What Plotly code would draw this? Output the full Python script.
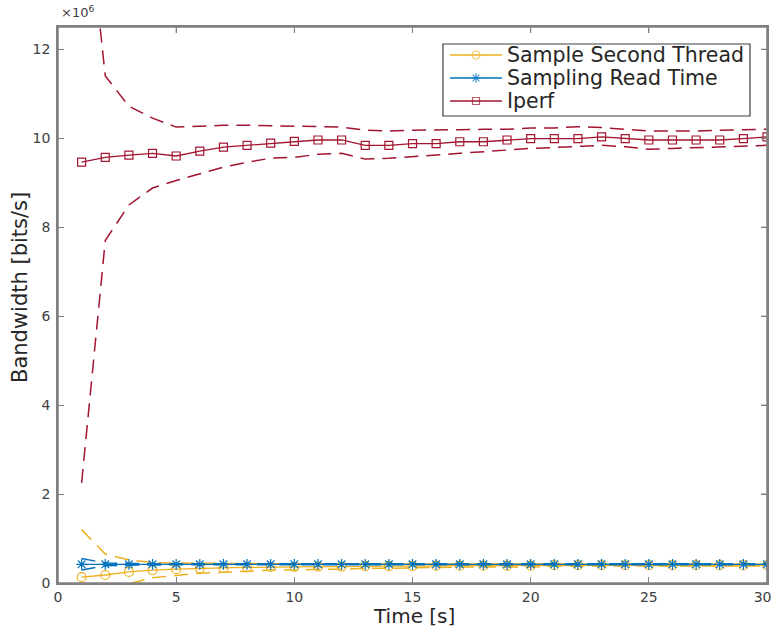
import plotly.graph_objects as go

time_s = list(range(1, 31))

# Sample Second Thread (x1e6 bits/s)
sst_mean = [0.13, 0.18, 0.25, 0.29, 0.31, 0.33, 0.34, 0.35, 0.36, 0.36, 0.37, 0.37, 0.38, 0.38, 0.38,
            0.39, 0.39, 0.39, 0.39, 0.39, 0.40, 0.40, 0.40, 0.40, 0.40, 0.40, 0.40, 0.40, 0.40, 0.40]
sst_upper = [1.20, 0.65, 0.52, 0.46, 0.45, 0.44, 0.44, 0.44, 0.43, 0.43, 0.43, 0.43, 0.43, 0.43, 0.42,
             0.42, 0.42, 0.42, 0.42, 0.42, 0.42, 0.42, 0.42, 0.42, 0.42, 0.42, 0.42, 0.42, 0.42, 0.42]
sst_lower = [-0.94, -0.29, -0.02, 0.12, 0.17, 0.22, 0.24, 0.26, 0.29, 0.29, 0.31, 0.31, 0.33, 0.33, 0.34,
             0.36, 0.36, 0.36, 0.36, 0.36, 0.38, 0.38, 0.38, 0.38, 0.38, 0.38, 0.38, 0.38, 0.38, 0.38]

# Sampling Read Time (x1e6 bits/s)
srt_mean = [0.42] * 30
srt_upper = [0.55, 0.45, 0.44, 0.43, 0.43, 0.43, 0.43, 0.43, 0.43, 0.43, 0.43, 0.43, 0.43, 0.43, 0.43,
             0.43, 0.43, 0.43, 0.43, 0.43, 0.43, 0.43, 0.43, 0.43, 0.43, 0.43, 0.43, 0.43, 0.43, 0.43]
srt_lower = [0.29, 0.39, 0.40, 0.41, 0.41, 0.41, 0.41, 0.41, 0.41, 0.41, 0.41, 0.41, 0.41, 0.41, 0.41,
             0.41, 0.41, 0.41, 0.41, 0.41, 0.41, 0.41, 0.41, 0.41, 0.41, 0.41, 0.41, 0.41, 0.41, 0.41]

# Iperf (x1e6 bits/s)
iperf_mean = [9.46, 9.57, 9.62, 9.66, 9.60, 9.71, 9.80, 9.84, 9.89, 9.93, 9.96, 9.96, 9.84, 9.84, 9.88,
              9.88, 9.92, 9.92, 9.96, 9.99, 9.99, 9.99, 10.03, 9.99, 9.96, 9.96, 9.96, 9.96, 9.99, 10.03]
iperf_upper = [16.4, 11.4, 10.72, 10.45, 10.25, 10.27, 10.29, 10.29, 10.28, 10.27, 10.27, 10.25, 10.18, 10.16, 10.18,
               10.18, 10.19, 10.20, 10.20, 10.23, 10.23, 10.26, 10.24, 10.20, 10.16, 10.16, 10.16, 10.18, 10.19, 10.20]
iperf_lower = [2.25, 7.70, 8.50, 8.88, 9.05, 9.20, 9.35, 9.46, 9.55, 9.57, 9.64, 9.66, 9.53, 9.55, 9.58,
               9.62, 9.66, 9.70, 9.73, 9.77, 9.79, 9.82, 9.84, 9.81, 9.75, 9.77, 9.79, 9.81, 9.82, 9.84]

series_names = ["Sample Second Thread", "Sampling Read Time", "Iperf"]

x_ticks = [0, 5, 10, 15, 20, 25, 30]
x_tick_labels = ["0", "5", "10", "15", "20", "25", "30\u00a0\u00a0"]
y_ticks = [0, 2, 4, 6, 8, 10, 12]
y_tick_labels = ["0", "2", "4", "6", "8", "10", "12"]

SCALE = 1e6
X_RANGE = [0, 30]
Y_RANGE = [0, 12.5 * SCALE]
c_yel = "#EDB120"
c_blu = "#0072BD"
c_red = "#A2142F"
AXC = "#808080"
DASH = "14px,8px"
FONT = "DejaVu Sans, Verdana, sans-serif"

W, H = 774, 632
ML, MR, MT, MB = 58, 7, 27, 49
PW, PH = W - ML - MR, H - MT - MB
TICKLEN = 6


def px2x(px):
    return (px - ML) / PW


def px2y(py):
    return (H - MB - py) / PH


def sc(v):
    return [a * SCALE for a in v]


fig = go.Figure()

specs = [
    (series_names[0], sst_mean, sst_upper, sst_lower, c_yel, "circle-open", 9),
    (series_names[1], srt_mean, srt_upper, srt_lower, c_blu, "asterisk-open", 9),
    (series_names[2], iperf_mean, iperf_upper, iperf_lower, c_red, "square-open", 8),
]

for name, mean, up, lo, color, symbol, msize in specs:
    for band in (up, lo):
        fig.add_trace(go.Scatter(x=time_s, y=sc(band), mode="lines", showlegend=False,
                                 line=dict(color=color, width=1.5, dash=DASH), hoverinfo="skip"))
    fig.add_trace(go.Scatter(x=time_s, y=sc(mean), mode="lines+markers", name=name, showlegend=False,
                             line=dict(color=color, width=1.3),
                             marker=dict(symbol=symbol, size=msize, color=color,
                                         line=dict(color=color, width=1.2))))

# custom legend samples (placed in the legend box; converted from box pixels to axis units)
leg_rows = [55, 78, 101]
for (name, mean, up, lo, color, symbol, msize), ry in zip(specs, leg_rows):
    lx = [X_RANGE[0] + px2x(p) * (X_RANGE[1] - X_RANGE[0]) for p in (450, 476, 502)]
    ly = [Y_RANGE[0] + px2y(ry) * (Y_RANGE[1] - Y_RANGE[0])] * 3
    fig.add_trace(go.Scatter(x=lx, y=ly, mode="lines+markers", showlegend=False,
                             hoverinfo="skip", cliponaxis=False,
                             line=dict(color=color, width=1.3),
                             marker=dict(symbol=symbol, size=[0, msize - 1, 0], color=color,
                                         line=dict(color=color, width=1.2))))

axis_common = dict(showgrid=False, zeroline=False, showline=True, linecolor=AXC, linewidth=1.5,
                   mirror="ticks", ticks="inside", ticklen=TICKLEN, tickcolor=AXC, tickwidth=1,
                   automargin=False, ticklabeloverflow="allow",
                   tickfont=dict(family=FONT, size=14, color="#404040"))

annotations = [
    dict(text="×10<sup>6</sup>", xref="paper", yref="paper", x=px2x(59), y=px2y(22),
         xanchor="left", yanchor="bottom", showarrow=False,
         font=dict(family=FONT, size=13, color="#404040")),
    dict(text="Time [s]", xref="paper", yref="paper", x=px2x(414), y=px2y(616),
         xanchor="center", yanchor="middle", showarrow=False,
         font=dict(family=FONT, size=20, color="#262626")),
    dict(text="Bandwidth [bits/s]", xref="paper", yref="paper", x=px2x(20), y=px2y(288),
         xanchor="center", yanchor="middle", showarrow=False, textangle=-90,
         font=dict(family=FONT, size=21, color="#262626")),
]
for name, ry in zip(series_names, leg_rows):
    annotations.append(dict(text=name, xref="paper", yref="paper", x=px2x(505), y=px2y(ry),
                            xanchor="left", yanchor="middle", showarrow=False,
                            font=dict(family=FONT, size=20.5, color="#262626")))

shapes = [
    dict(type="rect", xref="paper", yref="paper", layer="below",
         x0=px2x(443), x1=px2x(750), y0=px2y(116), y1=px2y(44),
         fillcolor="white", line=dict(color="#404040", width=1.2)),
    # axes box (top and right edges)
    dict(type="rect", xref="paper", yref="paper", layer="above",
         x0=0, x1=1, y0=0, y1=1, line=dict(color=AXC, width=1.5)),
]
# mirrored inside ticks on the top and right edges
for t in x_ticks[1:-1]:
    shapes.append(dict(type="line", xref="x", yref="paper", layer="above",
                       x0=t, x1=t, y0=1, y1=1 - TICKLEN / PH, line=dict(color=AXC, width=1)))
for t in y_ticks[1:]:
    shapes.append(dict(type="line", xref="paper", yref="y", layer="above",
                       x0=1, x1=1 - TICKLEN / PW, y0=t * SCALE, y1=t * SCALE, line=dict(color=AXC, width=1)))

fig.update_layout(
    width=W, height=H,
    margin=dict(l=ML, r=MR, t=MT, b=MB),
    paper_bgcolor="white", plot_bgcolor="white",
    font=dict(family=FONT, color="#262626"),
    showlegend=False,
    xaxis=dict(range=X_RANGE, tickvals=x_ticks, ticktext=x_tick_labels,
               **axis_common),
    yaxis=dict(range=Y_RANGE, tickvals=[t * SCALE for t in y_ticks],
               ticktext=y_tick_labels, ticklabelstandoff=3,
               **axis_common),
    annotations=annotations,
    shapes=shapes,
)

fig.write_html("out.html", config={"displayModeBar": False},
               post_script="document.body.style.margin='0';document.body.style.overflow='hidden';")
